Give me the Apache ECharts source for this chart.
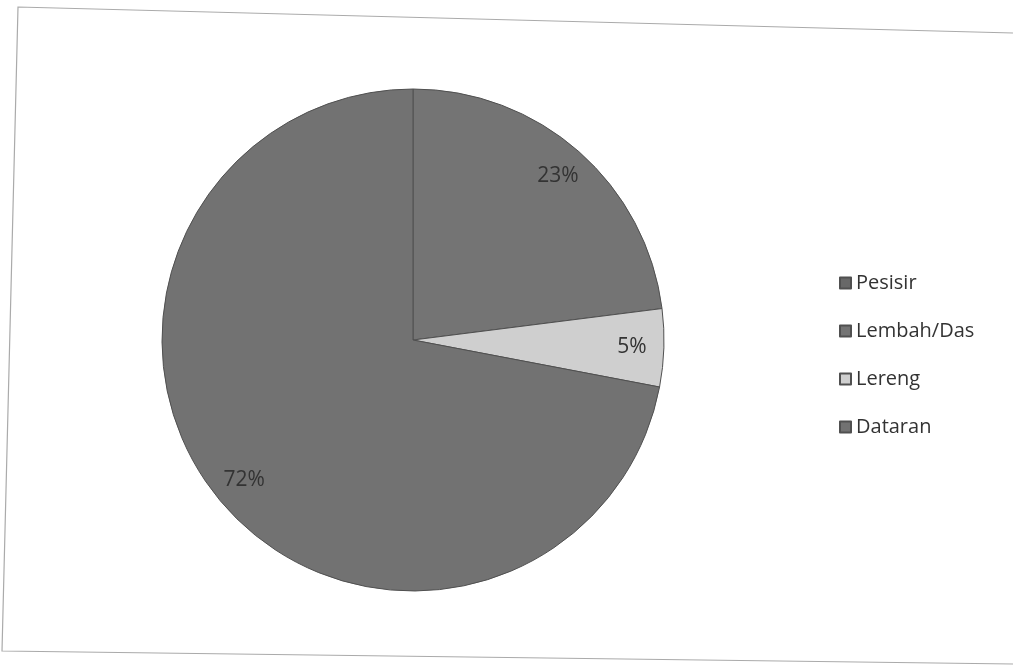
<!DOCTYPE html>
<html>
<head>
<meta charset="utf-8">
<script src="https://cdn.jsdelivr.net/npm/echarts@6/dist/echarts.min.js"></script>
<style>
html,body{margin:0;padding:0;background:#fff;}
#chart{width:1013px;height:670px;}
</style>
</head>
<body>
<div id="chart"></div>
<script>
const categories = ['Pesisir', 'Lembah/Das', 'Lereng', 'Dataran'];
const values = [0, 23, 5, 72];
const colors = ['#686868', '#747474', '#cfcfcf', '#727272'];

const chart = echarts.init(document.getElementById('chart'));
const pieData = categories.map((c, i) => ({
  name: c, value: values[i], itemStyle: { color: colors[i] }
}));
const labelData = categories.map((c, i) => ({
  name: c, value: values[i], label: { show: values[i] > 0 }
}));

chart.setOption({
  backgroundColor: '#ffffff',
  animation: false,
  graphic: [{
    type: 'polyline',
    shape: { points: [[1013, 33], [18, 7], [2, 651], [1013, 664]] },
    style: { stroke: '#aaaaaa', lineWidth: 1.2, fill: null },
    silent: true, z: -1
  }],
  legend: {
    orient: 'vertical',
    left: 834,
    top: 268,
    itemWidth: 11,
    itemHeight: 11,
    itemGap: 28,
    icon: 'rect',
    data: categories,
    textStyle: { fontFamily: 'Open Sans', fontSize: 20, color: '#333333', padding: [0, 0, 0, 0] }
  },
  series: [{
    type: 'pie',
    center: [413, 340],
    radius: [0, 251],
    startAngle: 90,
    clockwise: true,
    data: pieData,
    label: { show: false },
    labelLine: { show: false },
    itemStyle: { borderColor: '#505050', borderWidth: 1 },
    emphasis: { disabled: true }
  }, {
    type: 'pie',
    center: [413, 340],
    radius: [0, 432],
    startAngle: 90,
    clockwise: true,
    silent: true,
    legendHoverLink: false,
    data: labelData,
    itemStyle: { color: 'rgba(0,0,0,0)' },
    label: {
      show: true, position: 'inside',
      formatter: '{d}%',
      fontFamily: 'Open Sans', fontSize: 21, color: '#333333'
    },
    labelLine: { show: false },
    emphasis: { disabled: true }
  }]
});
</script>
</body>
</html>
